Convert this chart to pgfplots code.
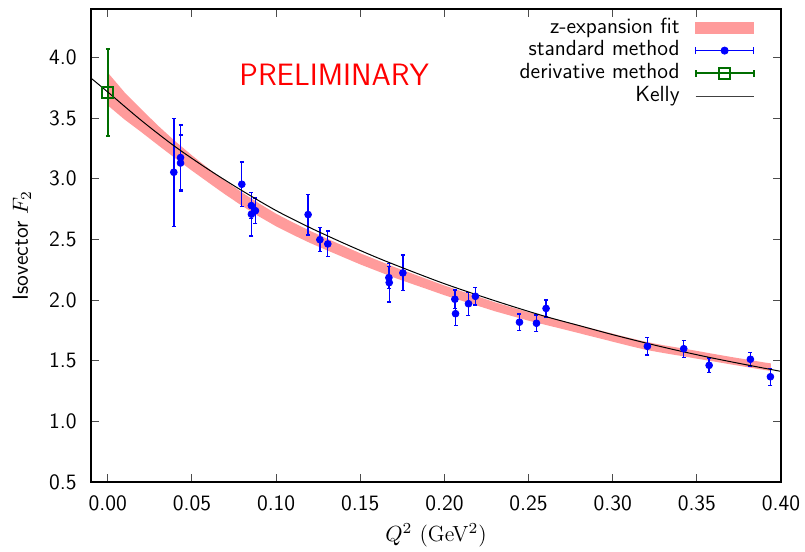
\RequirePackage{fix-cm}
\documentclass[border=0pt]{standalone}
\usepackage{fontspec}
\usepackage{pgfplots}
\pgfplotsset{compat=1.18}
\usepackage{pgfplotstable}
\usepgfplotslibrary{fillbetween}
\renewcommand{\familydefault}{\sfdefault}

\definecolor{bandpink}{RGB}{255,155,155}
\definecolor{dgreen}{RGB}{0,110,0}

% z-expansion band: Q2, lower, upper
\pgfplotstableread{
q     lo     hi
0.000 3.605 3.875
0.010 3.488 3.712
0.020 3.384 3.572
0.030 3.276 3.436
0.040 3.170 3.310
0.050 3.067 3.193
0.060 2.967 3.083
0.070 2.868 2.980
0.080 2.775 2.885
0.090 2.688 2.796
0.100 2.608 2.712
0.110 2.538 2.640
0.120 2.472 2.572
0.130 2.412 2.508
0.140 2.353 2.447
0.150 2.294 2.386
0.160 2.240 2.330
0.170 2.186 2.274
0.180 2.137 2.223
0.190 2.089 2.171
0.200 2.040 2.120
0.210 1.996 2.074
0.220 1.952 2.028
0.230 1.908 1.982
0.240 1.869 1.941
0.250 1.830 1.900
0.260 1.796 1.864
0.270 1.762 1.828
0.280 1.727 1.793
0.290 1.692 1.758
0.300 1.657 1.723
0.310 1.622 1.688
0.320 1.589 1.655
0.330 1.564 1.628
0.340 1.541 1.605
0.350 1.517 1.581
0.360 1.494 1.556
0.370 1.470 1.532
0.380 1.447 1.509
0.390 1.424 1.486
0.394 1.416 1.478
}\band

% standard method: Q2, F2, error
\pgfplotstableread{
q      f     e
0.0392 3.054 0.445
0.0432 3.175 0.268
0.0432 3.130 0.230
0.0796 2.955 0.185
0.0853 2.779 0.107
0.0853 2.708 0.180
0.0877 2.737 0.104
0.1190 2.705 0.168
0.1260 2.498 0.098
0.1307 2.463 0.105
0.1670 2.185 0.090
0.1672 2.144 0.160
0.1753 2.224 0.147
0.2062 2.007 0.076
0.2066 1.888 0.100
0.2143 1.970 0.095
0.2184 2.031 0.071
0.2446 1.818 0.068
0.2547 1.809 0.068
0.2604 1.931 0.069
0.3206 1.619 0.072
0.3422 1.599 0.070
0.3573 1.462 0.060
0.3818 1.512 0.056
0.3937 1.368 0.070
}\standard

% Kelly parametrisation
\pgfplotstableread{
q     f
-0.01 3.830
0.00  3.715
0.02  3.480
0.04  3.265
0.06  3.075
0.08  2.900
0.10  2.738
0.12  2.598
0.14  2.470
0.16  2.350
0.18  2.240
0.20  2.135
0.22  2.040
0.24  1.950
0.26  1.865
0.28  1.790
0.30  1.715
0.32  1.645
0.34  1.580
0.36  1.520
0.38  1.465
0.40  1.412
}\kelly

\begin{document}
\begin{tikzpicture}[font=\fontsize{11}{13}\selectfont]
\begin{axis}[
    scale only axis,
    width=345bp, height=236.5bp,
    xmin=-0.01, xmax=0.40, ymin=0.5, ymax=4.4,
    xtick={0,0.05,...,0.40},
    ytick={0.5,1.0,...,4.0},
    xticklabel style={/pgf/number format/fixed, /pgf/number format/fixed zerofill,
                      /pgf/number format/precision=2, inner sep=0pt, yshift=-6.5bp},
    yticklabel style={/pgf/number format/fixed, /pgf/number format/fixed zerofill,
                      /pgf/number format/precision=1, inner sep=0pt, xshift=-7bp},
    /pgf/number format/assume math mode=true,
    tick align=inside,
    xtick pos=both, ytick pos=both,
    xticklabel pos=bottom, yticklabel pos=left,
    major tick length=4bp,
    tick style={line width=0.5bp, black!70},
    axis line style={line width=1bp},
    xlabel={\rmfamily $Q^2$ (GeV$^2$)},
    ylabel={Isovector $F_2$},
    xlabel style={at={(axis description cs:0.5,-0.112)}, anchor=center},
    ylabel style={at={(axis description cs:-0.1,0.5)}, anchor=center},
    legend cell align=right,
    legend plot pos=right,
    legend style={draw=none, fill=none, at={(rel axis cs:1,1)},
                  anchor=north east, xshift=-13bp, yshift=-3.5bp,
                  inner sep=0pt, row sep=0pt, column sep=7bp,
                  nodes={inner sep=0.5bp, text height=7.8bp, text depth=2.6bp}},
  ]

\addplot[draw=none, name path=lo, forget plot] table[x=q, y=lo] {\band};
\addplot[draw=none, name path=hi, forget plot] table[x=q, y=hi] {\band};
\addplot[bandpink, legend image code/.code={
    \fill[bandpink] (0bp,-2.8bp) rectangle (29bp,2.8bp);}]
  fill between[of=hi and lo];
\addlegendentry{z-expansion fit}

\addplot[blue, only marks, mark=*, mark size=1.7bp,
         legend image code/.code={
           \draw[blue, line width=0.7bp] (0bp,0bp) -- (29bp,0bp)
             (0bp,-1.8bp) -- (0bp,1.8bp) (29bp,-1.8bp) -- (29bp,1.8bp);
           \fill[blue] (14.5bp,0bp) circle (1.8bp);},
         error bars/.cd, y dir=both, y explicit,
         error bar style={line width=0.7bp},
         error mark options={rotate=90, mark size=1bp, line width=0.7bp}]
  table[x=q, y=f, y error=e] {\standard};
\addlegendentry{standard method}

\addplot[dgreen, only marks, mark=square, mark size=2.7bp,
         mark options={line width=1bp},
         legend image code/.code={
           \draw[dgreen, line width=1bp] (0bp,0bp) -- (29bp,0bp)
             (0bp,-1.8bp) -- (0bp,1.8bp) (29bp,-1.8bp) -- (29bp,1.8bp);
           \draw[dgreen, line width=1bp] (11.8bp,-2.7bp) rectangle (17.2bp,2.7bp);},
         error bars/.cd, y dir=both, y explicit,
         error bar style={line width=1bp},
         error mark options={rotate=90, mark size=1bp, line width=1bp}]
  coordinates {(0.0, 3.714) +- (0, 0.36)};
\addlegendentry{derivative method}

\addplot[black, line width=0.5bp, smooth, legend image code/.code={
    \draw[black!75, line width=0.5bp] (0bp,0bp) -- (29bp,0bp);}]
  table[x=q, y=f] {\kelly};
\addlegendentry{Kelly}

\node[red, font=\fontsize{15.5}{18}\selectfont] at (axis cs:0.1345,3.857) {PRELIMINARY};

\end{axis}
\pgfresetboundingbox
\path ([xshift=-45.5bp,yshift=-34.5bp]current axis.south west)
  rectangle ([xshift=12bp,yshift=4.5bp]current axis.north east);
\end{tikzpicture}
\end{document}
